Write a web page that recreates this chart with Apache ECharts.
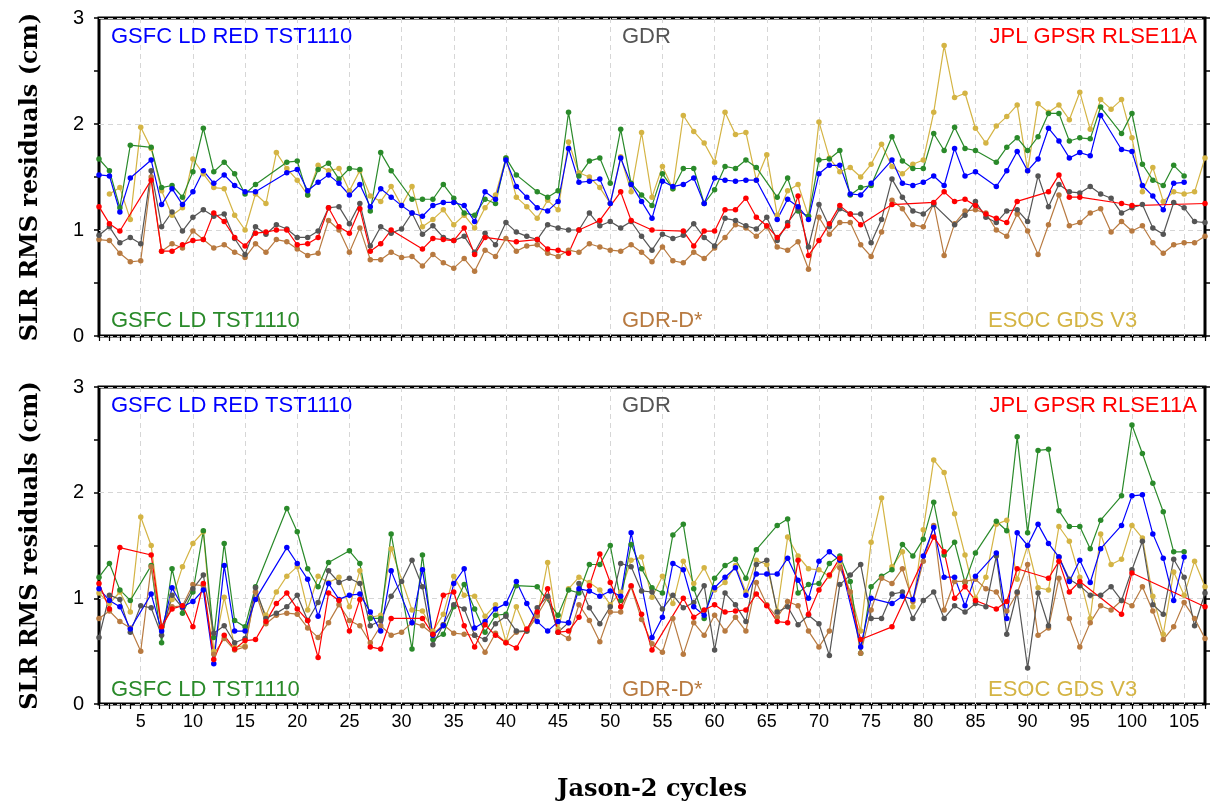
<!DOCTYPE html>
<html>
<head>
<meta charset="utf-8">
<script src="https://cdn.jsdelivr.net/npm/echarts@6/dist/echarts.min.js"></script>
<style>
  html, body { margin: 0; padding: 0; background: #fff; }
  #chart { width: 1216px; height: 803px; }
</style>
</head>
<body>
<div id="chart"></div>
<script>
// Jason-2 cycles 1..107 (categories)
const cycles = Array.from({ length: 107 }, (_, i) => String(i + 1));

// ── upper panel ──
const topRedTst = [1.52,1.51,1.17,1.49,null,1.66,1.24,1.39,1.24,1.36,
  1.56,1.44,1.52,1.42,1.36,1.36,null,null,1.54,1.57,
  1.37,1.45,1.52,1.44,1.33,1.43,1.22,1.39,1.31,1.23,
  1.16,1.13,1.23,1.26,1.26,1.23,1.08,1.36,1.29,1.66,
  1.41,1.31,1.21,1.18,1.27,1.77,1.45,1.46,1.48,1.25,
  1.68,1.43,1.27,1.11,1.46,1.41,1.43,1.49,1.25,1.49,
  1.47,1.46,1.47,1.47,null,1.10,1.29,1.22,1.10,1.53,
  1.61,1.61,1.34,1.33,1.44,null,1.66,1.44,1.42,1.45,
  1.51,1.42,1.77,1.51,1.55,null,1.41,1.56,1.74,1.56,
  1.67,1.96,1.84,1.68,1.73,1.70,2.08,null,1.76,1.74,
  1.42,1.32,1.19,1.44,1.45,null,null];
const topTst = [1.67,1.56,1.21,1.80,null,1.78,1.40,1.42,1.31,1.55,
  1.96,1.55,1.64,1.53,1.34,1.43,null,null,1.64,1.65,
  1.33,1.57,1.63,1.48,1.58,1.57,1.18,1.73,1.56,null,
  1.29,1.29,1.29,1.43,1.30,1.16,1.14,1.29,1.25,1.68,
  1.52,null,1.36,1.31,1.37,2.11,1.51,1.65,1.68,1.44,
  1.95,1.44,1.33,1.23,1.53,1.39,1.58,1.58,1.25,1.38,
  1.60,1.58,1.66,1.59,null,1.31,1.49,1.18,1.13,1.66,
  1.67,1.75,1.33,1.40,1.42,null,1.88,1.65,1.58,1.58,
  1.91,1.75,1.97,1.77,1.75,null,1.64,1.78,1.87,1.75,
  1.88,2.10,2.10,1.84,1.87,1.86,2.16,null,1.91,2.10,
  1.62,1.47,1.42,1.61,1.51,null,null];
const topEsoc = [null,1.34,1.40,1.10,1.97,1.77,1.37,1.14,1.21,1.67,
  1.53,1.40,1.39,1.14,1.00,1.34,1.25,1.73,1.58,1.47,
  1.33,1.61,1.56,1.58,1.37,1.56,1.32,1.27,1.41,1.23,
  1.41,1.03,1.10,1.19,1.05,1.14,1.02,1.21,1.33,1.68,
  1.31,1.22,1.11,1.28,1.19,1.83,1.54,1.50,1.40,1.25,
  1.69,1.36,1.92,1.31,1.60,1.39,2.08,1.93,1.82,1.64,
  2.11,1.90,1.92,1.47,1.71,1.14,1.37,1.43,1.13,2.02,
  1.68,1.55,1.59,1.50,1.62,1.81,1.60,1.53,1.62,1.66,
  2.11,2.74,2.25,2.29,1.96,1.82,1.98,2.07,2.18,1.56,
  2.19,2.11,2.18,2.04,2.30,1.95,2.23,2.14,2.23,1.87,
  1.36,1.59,1.27,1.36,1.34,1.36,1.68];
const topGdr = [0.95,1.03,0.88,0.93,0.87,1.56,1.03,1.17,0.99,1.12,
  1.19,1.13,1.15,0.92,0.77,1.03,0.96,1.05,1.01,0.93,
  0.93,0.99,1.21,1.22,1.06,1.25,0.85,1.03,0.97,1.01,
  1.16,0.96,1.04,0.93,0.90,0.94,0.79,0.97,0.86,1.07,
  0.98,0.94,0.91,1.05,1.02,1.00,1.00,1.16,1.04,1.08,
  1.02,1.08,0.94,0.81,0.96,0.92,0.95,1.06,0.93,0.85,
  1.11,1.09,1.04,1.01,1.12,0.90,1.07,1.20,0.84,1.24,
  1.03,1.20,1.15,1.15,0.88,1.10,1.48,1.31,1.18,1.15,
  1.24,null,1.05,1.14,1.27,1.12,1.07,1.18,1.19,1.08,
  1.51,1.22,1.43,1.36,1.35,1.41,1.34,1.30,1.16,1.21,
  1.24,1.02,0.96,1.26,1.21,1.08,1.07];
const topJpl = [1.22,1.06,0.99,null,null,1.47,0.80,0.80,0.86,0.90,
  0.91,1.16,1.08,0.93,0.85,0.97,0.98,1.00,1.00,0.86,
  0.87,0.93,1.21,1.03,0.97,1.20,0.80,0.87,1.00,null,
  null,0.82,0.92,0.91,0.90,1.02,0.77,0.93,null,null,
  0.89,null,0.91,0.82,0.81,0.78,1.00,null,1.09,null,
  1.36,1.09,null,1.00,null,null,0.99,0.85,0.99,0.99,
  1.19,1.19,1.30,1.12,1.04,0.93,1.04,1.32,0.76,0.90,
  1.06,1.23,1.15,1.05,null,null,1.24,null,null,null,
  1.26,1.36,1.27,1.29,1.23,1.15,1.11,1.07,1.27,null,
  null,1.36,1.52,1.31,1.31,null,null,null,1.25,1.23,
  null,null,null,null,null,null,1.25];
const topGdrD = [0.91,0.90,0.78,0.70,0.71,1.50,0.80,0.87,0.83,0.99,
  0.91,0.83,0.86,0.79,0.74,0.87,0.79,0.91,0.89,0.82,
  0.76,0.78,1.09,1.00,0.79,1.02,0.72,0.72,0.79,0.74,
  0.75,0.66,0.77,0.69,0.64,0.73,0.61,0.81,0.75,0.92,
  0.80,0.85,0.86,0.78,0.75,0.81,0.79,0.87,0.84,0.81,
  0.80,0.86,0.79,0.70,0.84,0.71,0.69,0.79,0.73,0.83,
  0.93,1.05,1.02,0.94,1.03,0.84,0.81,0.89,0.63,1.12,
  0.96,1.07,1.07,0.86,0.75,0.98,1.28,1.20,1.05,1.03,
  1.25,0.76,1.06,1.18,1.19,1.16,1.00,0.94,1.15,0.99,
  0.77,1.05,1.33,1.04,1.07,1.16,1.20,0.98,1.08,0.99,
  1.04,0.88,0.78,0.86,0.88,0.88,0.94];

// ── lower panel ──
const botRedTst = [1.09,0.98,0.92,0.71,null,1.04,0.69,1.10,0.92,0.97,
  1.08,0.38,1.31,0.69,0.69,0.99,null,null,1.48,1.33,
  1.18,0.83,1.14,0.99,1.03,1.04,0.87,0.69,1.26,null,
  0.77,1.27,0.65,0.74,1.14,1.28,0.72,0.78,0.90,0.95,
  1.16,0.95,0.78,0.69,0.78,0.77,1.09,1.07,1.02,1.07,
  1.02,1.62,null,0.63,0.82,1.33,1.27,0.92,0.84,1.10,
  1.20,1.29,1.03,1.23,1.23,1.23,1.38,1.17,1.00,1.35,
  1.44,1.36,null,0.54,1.00,null,0.95,1.02,0.99,1.40,
  1.67,1.20,1.20,0.93,1.21,null,1.43,0.81,1.62,1.50,
  1.70,1.52,1.39,1.16,1.36,1.15,1.47,null,1.69,1.97,
  1.98,1.61,1.38,0.98,1.39,null,null];
const botTst = [1.20,1.33,1.08,0.98,null,1.31,0.58,1.28,0.86,1.06,
  1.64,0.63,1.52,0.79,0.73,1.11,null,null,1.85,1.63,
  1.28,1.11,1.34,null,1.45,1.33,0.81,0.81,1.61,null,
  0.52,1.41,0.61,0.66,0.92,1.13,0.90,0.68,0.84,0.85,
  1.12,null,1.11,null,0.84,1.08,1.05,1.32,1.32,1.50,
  0.98,1.51,1.28,1.10,1.05,1.60,1.70,1.09,0.81,1.19,
  1.31,1.37,1.19,1.46,null,1.69,1.75,1.05,1.13,1.14,
  1.33,1.40,1.16,0.48,1.11,1.21,1.27,1.51,1.40,1.56,
  1.91,1.41,1.53,1.15,1.43,null,1.73,1.64,2.53,1.62,
  2.40,2.41,1.83,1.68,1.68,1.47,1.74,null,1.97,2.64,
  2.37,2.09,1.82,1.44,1.44,null,null];
const botEsoc = [1.05,0.95,1.06,0.87,1.77,1.50,0.73,0.99,1.30,1.52,
  1.63,0.50,1.01,0.54,0.55,1.06,0.84,1.06,1.21,1.30,
  0.89,1.21,1.15,1.20,0.92,1.26,0.82,0.84,1.47,null,
  0.89,0.88,0.69,0.85,1.21,1.03,1.02,0.83,0.94,0.59,
  0.92,0.69,0.83,1.34,0.71,1.09,1.20,1.15,1.08,0.94,
  1.06,1.36,1.39,1.01,1.21,0.95,1.35,1.14,1.29,1.08,
  1.15,1.31,1.06,1.36,1.32,0.88,1.58,1.40,1.28,1.27,
  1.21,1.34,1.06,0.69,1.53,1.95,1.30,1.44,0.92,1.65,
  2.31,2.19,1.80,1.41,1.00,1.20,1.70,1.74,1.18,1.50,
  1.10,1.08,1.68,1.54,1.20,0.81,1.61,1.32,1.37,1.69,
  1.57,1.02,0.66,1.25,1.03,1.35,1.11];
const botGdr = [0.63,1.03,0.99,0.68,0.93,0.91,0.65,1.03,0.91,1.09,
  1.22,0.67,0.74,0.58,0.62,1.10,0.81,0.86,0.92,1.03,
  0.79,0.96,1.26,1.15,1.19,1.14,0.74,0.79,1.02,1.16,
  1.36,1.11,0.56,0.75,0.94,0.90,0.65,0.61,0.76,0.83,
  0.69,0.69,0.91,1.02,0.68,0.77,1.14,0.91,0.76,0.92,
  1.33,1.30,1.07,1.06,0.90,1.03,0.91,0.96,1.12,0.51,
  1.05,0.94,0.78,1.32,1.36,0.87,0.92,0.75,0.84,0.76,
  0.46,1.13,1.22,1.32,0.81,0.81,1.04,1.06,0.81,0.98,
  1.06,0.81,0.93,0.87,0.95,0.92,1.40,0.66,1.06,0.34,
  1.05,0.74,1.39,1.18,1.12,1.03,1.03,1.11,0.98,1.27,
  1.54,0.94,0.85,1.37,1.20,0.74,1.05];
const botJpl = [1.14,0.90,1.48,null,null,1.41,0.73,0.90,0.93,0.73,
  1.14,0.42,0.65,0.52,0.60,0.61,0.78,0.95,1.05,0.90,
  0.79,0.44,1.05,0.98,0.69,0.99,0.54,0.52,0.81,null,
  null,0.81,0.66,1.03,1.06,0.74,0.54,0.75,0.65,0.58,
  0.53,0.71,0.87,1.09,0.68,0.69,0.82,1.12,1.42,1.15,
  0.92,1.12,0.85,0.51,null,null,1.00,0.82,0.89,0.94,
  0.87,0.88,0.89,1.04,0.93,0.78,0.77,1.36,0.85,1.08,
  1.22,1.38,null,0.61,null,null,0.73,null,null,null,
  1.58,1.44,1.00,1.11,0.98,null,0.90,0.97,1.28,null,
  null,1.19,1.35,1.06,1.16,null,null,null,0.85,1.24,
  null,null,null,null,null,null,0.92];
const botGdrD = [0.81,0.88,0.78,0.72,0.50,1.30,0.73,0.92,0.93,1.13,
  1.12,0.47,0.62,0.51,0.54,1.06,0.76,0.84,0.86,0.85,
  0.72,0.63,0.77,0.94,0.79,0.74,0.58,0.74,0.65,0.68,
  0.77,0.74,0.66,0.75,0.67,0.66,0.65,0.49,0.67,0.58,
  0.68,0.69,0.84,1.01,0.68,0.62,0.94,0.79,0.59,0.87,
  0.87,1.11,0.80,0.57,0.49,0.81,0.47,0.77,0.65,0.84,
  0.69,0.82,0.69,1.15,0.94,0.82,0.97,0.93,0.69,0.54,
  0.69,1.29,1.06,0.48,0.89,1.19,1.14,1.28,0.97,1.35,
  1.69,0.89,1.16,1.16,1.18,1.09,1.06,0.88,1.05,1.32,
  0.65,0.72,1.19,0.81,0.54,0.77,0.93,0.89,0.98,0.93,
  1.11,0.88,0.61,0.73,0.96,0.81,0.62];

const COL = {
  redTst: '#0000ff', gdr: '#555555', jpl: '#ff0000',
  tst: '#2a8a2a', gdrD: '#b87a40', esoc: '#d4b444'
};
const SANS = 'Liberation Sans';
const SERIF = 'DejaVu Serif';

const chart = echarts.init(document.getElementById('chart'), null, { renderer: 'canvas' });

const every5 = (i, v) => Number(v) % 5 === 0;

const mkX = (gi, showLabels) => ({
  type: 'category', gridIndex: gi, data: cycles, boundaryGap: false,
  axisLine: { show: false },
  axisTick: { show: true, interval: 0, length: 5, lineStyle: { color: '#000', width: 1.2 } },
  axisLabel: { show: showLabels, interval: every5, fontSize: 18, color: '#000', fontFamily: SANS, margin: 9 },
  splitLine: { show: true, interval: every5, lineStyle: { type: [5, 4], color: '#d6d6d6', width: 1 } },
  name: showLabels ? 'Jason-2 cycles' : '',
  nameLocation: 'middle', nameGap: 74,
  nameTextStyle: { fontFamily: SERIF, fontWeight: 'bold', fontSize: 24, color: '#000' }
});

const mkY = (gi, pos) => ({
  type: 'value', gridIndex: gi, position: pos, min: 0, max: 3, interval: 1,
  axisLine: { show: false },
  axisTick: { show: true, length: 5, lineStyle: { color: '#000', width: 1.5 } },
  minorTick: { show: true, splitNumber: 2, length: 5, lineStyle: { color: '#000', width: 1.5 } },
  axisLabel: { show: pos === 'left', fontSize: 20, color: '#000', fontFamily: SANS, margin: 15 },
  splitLine: { show: pos === 'left', lineStyle: { type: [5, 4], color: '#d6d6d6', width: 1 } },
  name: pos === 'left' ? 'SLR RMS residuals (cm)' : '',
  nameLocation: 'middle', nameGap: 56,
  nameTextStyle: { fontFamily: SERIF, fontWeight: 'bold', fontSize: 24, color: '#000' }
});

const mkS = (name, data, color, gi) => ({
  name, type: 'line', data,
  xAxisIndex: gi, yAxisIndex: gi * 2,
  connectNulls: true,
  symbol: 'circle', symbolSize: 5.5, showSymbol: true,
  lineStyle: { color, width: 1.2 },
  itemStyle: { color },
  animation: false
});

const mkLabel = (text, color, pos) => Object.assign({
  text, padding: 0,
  textStyle: { color, fontSize: 22, fontWeight: 'normal', fontFamily: SANS }
}, pos);

const panels = [
  { top: 18, data: [topEsoc, topTst, topGdrD, topGdr, topRedTst, topJpl] },
  { top: 387, data: [botEsoc, botTst, botGdrD, botGdr, botRedTst, botJpl] }
];
const order = [
  ['ESOC GDS V3', COL.esoc], ['GSFC LD TST1110', COL.tst], ['GDR-D*', COL.gdrD],
  ['GDR', COL.gdr], ['GSFC LD RED TST1110', COL.redTst], ['JPL GPSR RLSE11A', COL.jpl]
];

const series = [];
const titles = [];
panels.forEach(function (p, gi) {
  p.data.forEach(function (d, k) { series.push(mkS(order[k][0], d, order[k][1], gi)); });
  const t1 = p.top + 8, t2 = p.top + 292;
  titles.push(mkLabel('GSFC LD RED TST1110', COL.redTst, { left: 111, top: t1 }));
  titles.push(mkLabel('GDR', COL.gdr, { left: 622, top: t1 }));
  titles.push(mkLabel('JPL GPSR RLSE11A', COL.jpl, { right: 19, top: t1 }));
  titles.push(mkLabel('GSFC LD TST1110', COL.tst, { left: 111, top: t2 }));
  titles.push(mkLabel('GDR-D*', COL.gdrD, { left: 622, top: t2 }));
  titles.push(mkLabel('ESOC GDS V3', COL.esoc, { left: 988, top: t2 }));
});

chart.setOption({
  backgroundColor: '#fff',
  animation: false,
  title: titles,
  grid: panels.map(p => ({
    left: 99, right: 11, top: p.top, height: 318,
    show: true, borderColor: '#000', borderWidth: 3, backgroundColor: 'transparent'
  })),
  xAxis: [mkX(0, false), mkX(1, true)],
  yAxis: [mkY(0, 'left'), mkY(0, 'right'), mkY(1, 'left'), mkY(1, 'right')],
  series
});
</script>
</body>
</html>
